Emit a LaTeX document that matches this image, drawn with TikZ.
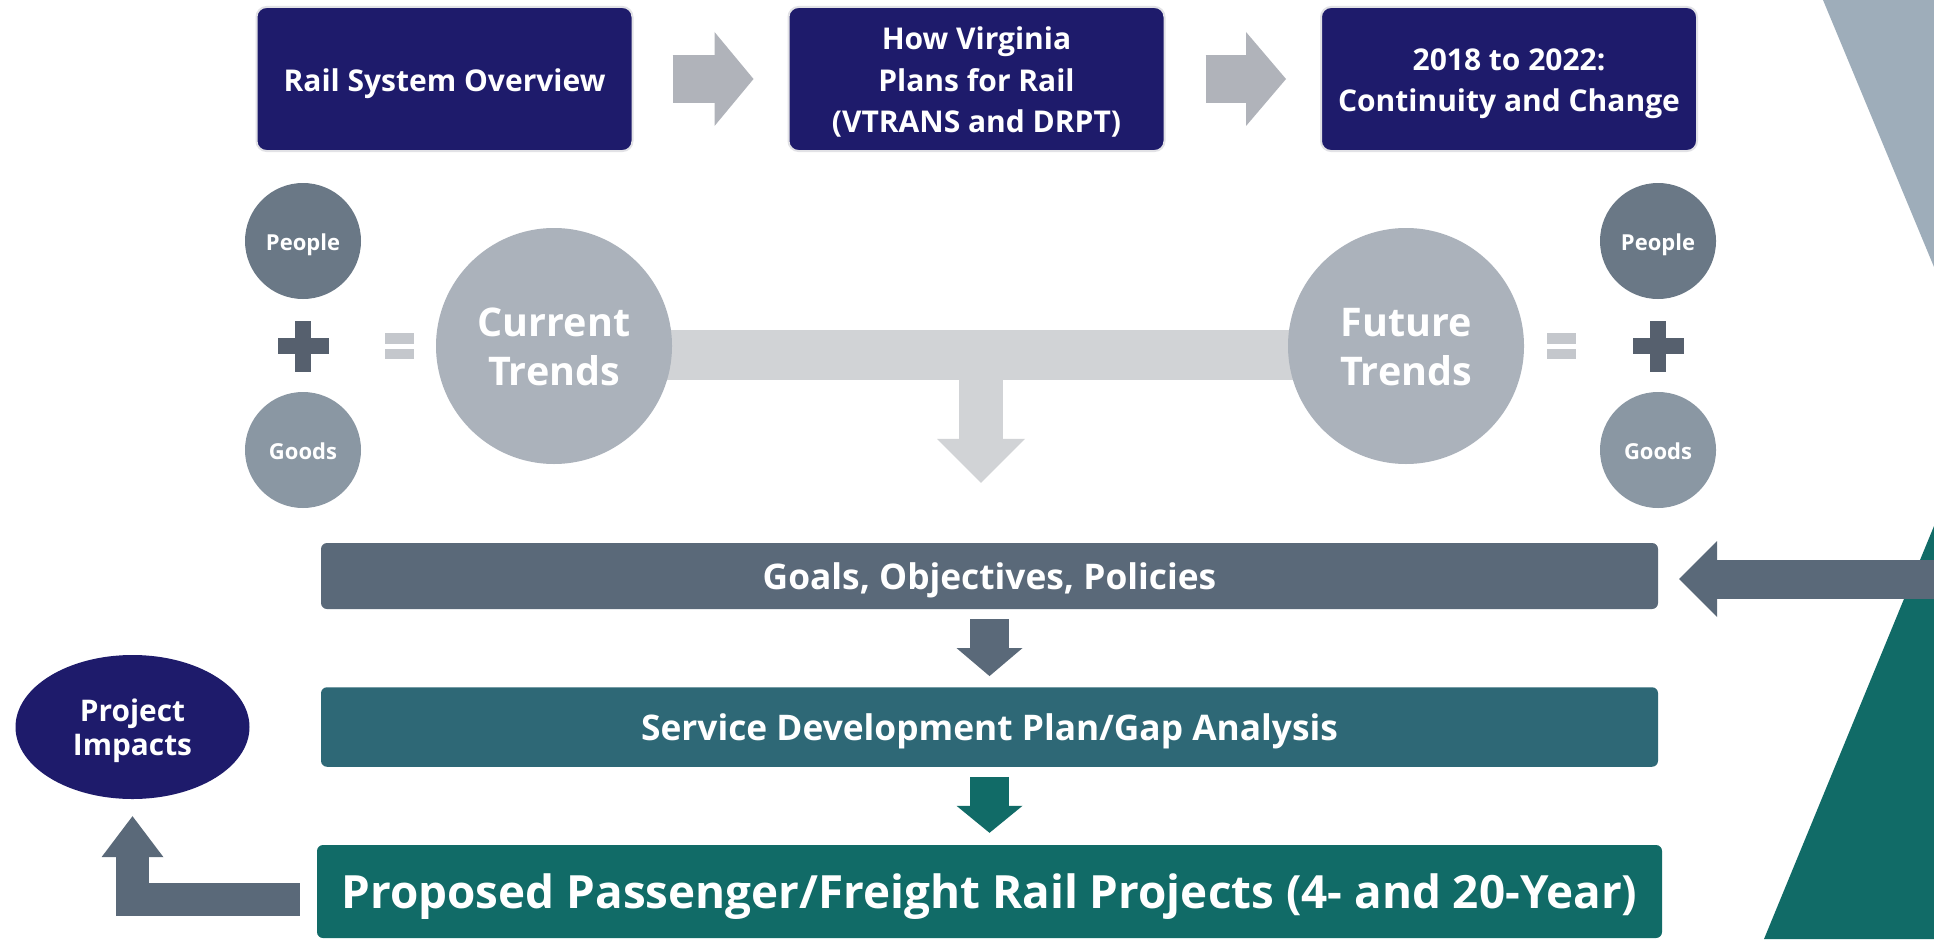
\documentclass[tikz,border=0pt]{standalone}
\usepackage{fontspec}
\setmainfont{Open Sans}
\usetikzlibrary{arrows.meta,shapes.geometric,backgrounds,calc}
\definecolor{navy}{HTML}{1E1B6B}
\definecolor{boxedge}{HTML}{E2E2E6}
\definecolor{peoplegray}{HTML}{6A7886}
\definecolor{goodsgray}{HTML}{8A97A3}
\definecolor{trendgray}{HTML}{ABB2BB}
\definecolor{plusgray}{HTML}{56606E}
\definecolor{equalgray}{HTML}{C4C7CC}
\definecolor{forkgray}{HTML}{D1D3D6}
\definecolor{stepgray}{HTML}{B0B3BA}
\definecolor{slate}{HTML}{5A6979}
\definecolor{sdpblue}{HTML}{2E6876}
\definecolor{railteal}{HTML}{116B67}
\definecolor{wedgegray}{HTML}{9EADBA}

\begin{document}
\begin{tikzpicture}[x=1pt,y=-1pt,
	topbox/.style={draw=boxedge, line width=2pt, fill=navy, rounded corners=10pt,
		minimum width=376pt, minimum height=144pt, text=white, align=center,
		font=\bfseries\fontsize{30}{41.5}\selectfont, text depth=7.5pt},
	blob/.style={circle, inner sep=0pt, text=white, align=center},
	small/.style={blob, minimum size=116pt, font=\bfseries\fontsize{22}{26}\selectfont,
		text height=23.5pt, text depth=5.5pt},
	trend/.style={blob, fill=trendgray, minimum size=236pt, font=\bfseries\fontsize{39.5}{49.3}\selectfont,
		text height=89pt, text depth=9.9pt},
	bar/.style={rounded corners=6pt, minimum width=1337pt, text=white,
		font=\bfseries\fontsize{35.3}{40}\selectfont, text height=36pt, text depth=8.8pt},
	blockarrow/.style={line cap=butt}]
	\useasboundingbox (0,0) rectangle (1934,939);
	\begin{scope}[on background layer]
		\fill[white] (0,0) rectangle (1934,939);
	\end{scope}
	
	% backdrop wedges
	\fill[wedgegray] (1823,0) -- (1934,0) -- (1934,267) -- cycle;
	\fill[railteal] (1934,526) -- (1934,939) -- (1764,939) -- cycle;
	
	% top row
	\node[topbox, text height=32pt] (rso) at (444.5,79) {Rail System Overview};
	\node[topbox, text height=115pt] (hvp) at (976.5,79) {How Virginia\\Plans for Rail\\(VTRANS and DRPT)};
	\node[topbox, text height=72.5pt, font=\bfseries\fontsize{30}{40.7}\selectfont] (cac) at (1509,79) {2018 to 2022:\\Continuity and Change};
	
	\draw[blockarrow, stepgray, line width=48pt, -{Triangle[length=39pt,width=94pt,line width=0pt]},
		shorten <=39pt, shorten >=34pt] (rso) -- (hvp);
	\draw[blockarrow, stepgray, line width=48pt, -{Triangle[length=40pt,width=94pt,line width=0pt]},
		shorten <=40pt, shorten >=34pt] (hvp) -- (cac);
	
	% trends
	\node[small, fill=peoplegray] (pl) at (303,241) {People};
	\node[small, fill=goodsgray] (gl) at (303,450) {Goods};
	\node[trend] (cur) at (554,346) {Current\\Trends};
	\node[trend] (fut) at (1406,346) {Future\\Trends};
	\node[small, fill=peoplegray] (pr) at (1658,241) {People};
	\node[small, fill=goodsgray] (gr) at (1658,450) {Goods};
	
	\foreach \x in {303,1658}{
		\fill[plusgray] (\x-25.5,338) rectangle (\x+25.5,354);
		\fill[plusgray] (\x-8,320.5) rectangle (\x+8,371.5);}
	\foreach \x in {399.5,1561}{
		\fill[equalgray] (\x-14.5,333) rectangle (\x+14.5,343.5);
		\fill[equalgray] (\x-14.5,348.5) rectangle (\x+14.5,359);}
	
	\begin{scope}[on background layer]
		\draw[blockarrow, forkgray, line width=50pt] ([yshift=-9pt]cur.center) -- ([yshift=-9pt]fut.center);
	\end{scope}
	\coordinate (fork) at ($(cur.center)!0.5!(fut.center)+(1,9)$);
	
	% plan steps
	\node[bar, fill=slate, minimum height=66pt] (goals) at (989.5,576) {Goals, Objectives, Policies};
	\node[bar, fill=sdpblue, minimum height=79.5pt] (sdp) at (989.5,727) {Service Development Plan/Gap Analysis};
	\node[bar, fill=railteal, minimum width=1345pt, minimum height=93pt,
		font=\bfseries\fontsize{45.8}{56}\selectfont, text height=46pt, text depth=11.5pt] (prop) at (989.5,891.5)
		{Proposed Passenger/Freight Rail Projects (4- and 20-Year)};
	\node[ellipse, fill=navy, inner sep=0pt, minimum width=234pt, minimum height=144pt, text=white, align=center,
		font=\bfseries\fontsize{29.8}{33.5}\selectfont, text height=64pt, text depth=7.5pt] (impacts) at (132.5,727) {Project\\Impacts};
	\coordinate (feed) at (1934,579);
	
	\draw[blockarrow, forkgray, line width=44pt, -{Triangle[length=44pt,width=88pt,line width=0pt]},
		shorten >=60pt] (fork) -- (fork |- goals.north);
	\draw[blockarrow, slate, line width=39pt, -{Triangle[length=28pt,width=66pt,line width=0pt]},
		shorten <=10pt, shorten >=11pt] (goals) -- (sdp);
	\draw[blockarrow, railteal, line width=39pt, -{Triangle[length=27pt,width=66pt,line width=0pt]},
		shorten <=10pt, shorten >=12pt] (sdp) -- (prop);
	\draw[blockarrow, slate, line width=39pt, -{Triangle[length=38pt,width=76pt,line width=0pt]},
		shorten >=21pt] (feed) -- (feed -| goals.east);
	\draw[blockarrow, slate, line width=33pt, -{Triangle[length=41pt,width=62pt,line width=0pt]},
		shorten <=17pt, shorten >=17pt] ([yshift=-8pt]prop.west) -| (impacts);
\end{tikzpicture}
\end{document}
